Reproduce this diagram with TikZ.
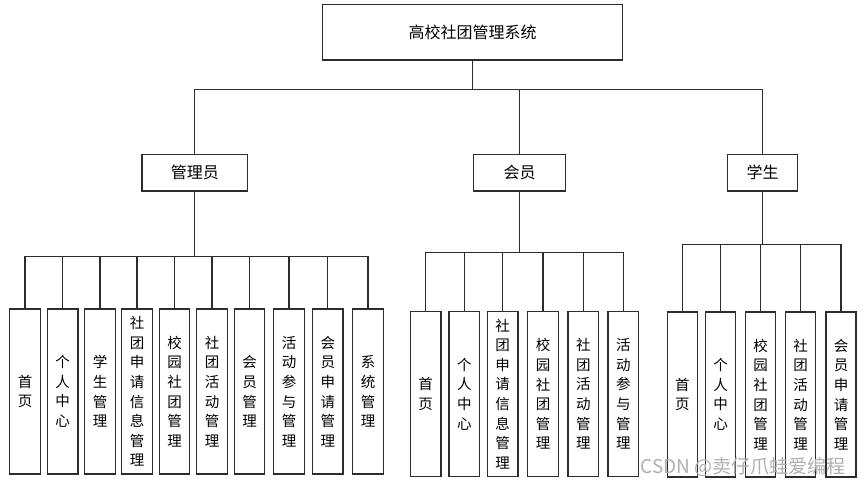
\documentclass[tikz,border=0pt]{standalone}
\usepackage{fontspec}
\usepackage{xcolor}
\usepackage{tikz}
\usetikzlibrary{positioning}
\setmainfont{Noto Sans CJK SC}
\definecolor{lineGray}{RGB}{45, 45, 45}
\definecolor{markGray}{RGB}{175, 175, 175}

\begin{document}
\begin{tikzpicture}[
        x=1pt, y=-1pt,
        box/.style={draw=lineGray, line width=1.2pt, inner sep=0pt, align=center, font=\fontsize{16}{19}\selectfont},
        rootbox/.style={box, minimum width=299.5pt, minimum height=55.3pt},
        rolebox/.style={box, minimum height=36.7pt},
        leaf/.style={box, minimum width=30.5pt, minimum height=165pt, font=\fontsize{14.5}{19.6}\selectfont},
        wire/.style={draw=lineGray, line width=1.2pt}
    ]
        \useasboundingbox (0,0) rectangle (865,485);

        % Root
        \node[rootbox] (sys) at (472.5,32.3) {高校社团管理系统};

        % Roles
        \node[rolebox, minimum width=105.5pt] (admin) at (194.8,172.7) {管理员};
        \node[rolebox, minimum width=92pt] (member) at (519.7,172.7) {会员};
        \node[rolebox, minimum width=69.5pt] (student) at (762.5,172.7) {学生};

        % Admin functions
        \foreach \x/\txt [count=\i] in {25/首\\页, 62.7/个\\人\\中\\心, 100/学\\生\\管\\理,
            137/社\\团\\申\\请\\信\\息\\管\\理, 174.5/校\\园\\社\\团\\管\\理, 212/社\\团\\活\\动\\管\\理,
            249.5/会\\员\\管\\理, 289/活\\动\\参\\与\\管\\理, 327.8/会\\员\\申\\请\\管\\理, 368/系\\统\\管\\理}
            \node[leaf] (a\i) at (\x,391.5) {\txt};

        % Member functions
        \foreach \x/\txt [count=\i] in {425.7/首\\页, 464.3/个\\人\\中\\心, 502.7/社\\团\\申\\请\\信\\息\\管\\理,
            543/校\\园\\社\\团\\管\\理, 583.3/社\\团\\活\\动\\管\\理, 623.3/活\\动\\参\\与\\管\\理}
            \node[leaf] (m\i) at (\x,394) {\txt};

        % Student functions
        \foreach \x/\txt [count=\i] in {682.3/首\\页, 720.5/个\\人\\中\\心, 760.7/校\\园\\社\\团\\管\\理,
            800.7/社\\团\\活\\动\\管\\理, 841/会\\员\\申\\请\\管\\理}
            \node[leaf, minimum width=30pt] (s\i) at (\x,394.5) {\txt};

        % Lines
        \draw[wire] (sys.south) -- ++(0,29.3) coordinate (rootbus);
        \draw[wire] (admin.north) |- (rootbus) -| (student.north);
        \draw[wire] (member.north) -- (member.north |- rootbus);

        \draw[wire] (admin.south) -- ++(0,65) coordinate (adminbus);
        \foreach \i in {1,...,10} \draw[wire] (adminbus) -| (a\i.north);

        \draw[wire] (member.south) -- ++(0,61) coordinate (memberbus);
        \foreach \i in {1,...,6} \draw[wire] (memberbus) -| (m\i.north);

        \draw[wire] (student.south) -- ++(0,53) coordinate (studentbus);
        \foreach \i in {1,...,5} \draw[wire] (studentbus) -| (s\i.north);

        % Watermark
        \node[font=\fontsize{19}{22}\selectfont, text=markGray] (mark) at (743,467) {CSDN @卖仔爪蛙爱编程};
    \end{tikzpicture}
\end{document}
